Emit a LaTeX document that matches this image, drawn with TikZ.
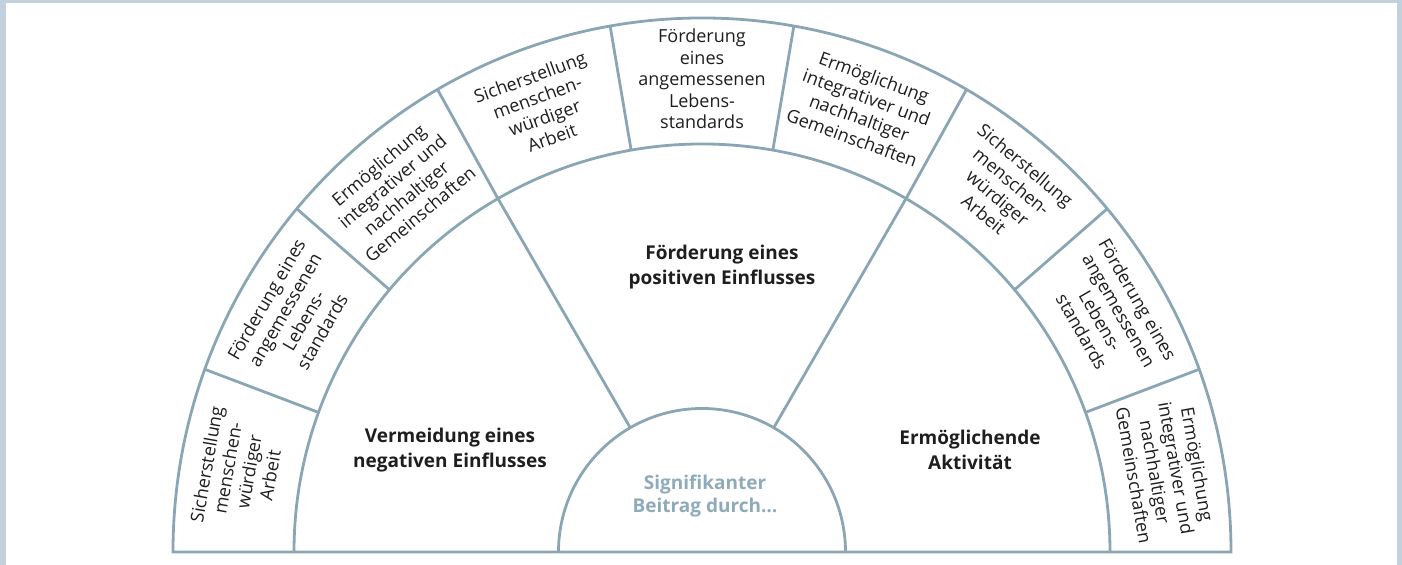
\documentclass[tikz,border=0pt]{standalone}
\usepackage{fontspec}
\setmainfont{Open Sans}
\definecolor{framecol}{HTML}{C2D1DB}
\definecolor{rulecol}{HTML}{8AA6B4}
\definecolor{centrecol}{HTML}{8FAAB8}
\definecolor{inkcol}{HTML}{1E1E1E}
\begin{document}
\begin{tikzpicture}[x=0.5pt,y=0.5pt,
  ringline/.style={draw=rulecol,line width=1.4pt,line join=miter},
  outertext/.style={align=center,font=\fontsize{9}{10.75}\selectfont,text=inkcol,inner sep=0pt},
  midtext/.style={align=center,font=\fontsize{9.5}{12.5}\selectfont\bfseries,text=inkcol,inner sep=0pt},
  centretext/.style={align=center,font=\fontsize{9.5}{11.5}\selectfont\bfseries,text=centrecol,inner sep=0pt}
]
\useasboundingbox (-702,-13) rectangle (700,552);
% frame strips
\fill[framecol] (-702,549) rectangle (700,552);
\fill[framecol] (-702,-13) rectangle (-696,552);
\fill[framecol] (695,-13) rectangle (700,552);
% rings
\draw[ringline] (-529,0) arc[start angle=180,end angle=0,x radius=529,y radius=534] -- cycle;
\draw[ringline] (-408,0) arc[start angle=180,end angle=0,radius=408];
\draw[ringline] (-143.5,0) arc[start angle=180,end angle=0,radius=143.5];
% outer dividers
\foreach \a in {20,40,...,160}
  \draw[ringline] ({408*cos(\a)},{408*sin(\a)}) -- ({529*cos(\a)},{534*sin(\a)});
% middle dividers
\foreach \a in {60,120}
  \draw[ringline] ({143.5*cos(\a)},{143.5*sin(\a)}) -- ({408*cos(\a)},{408*sin(\a)});
% outer texts
\node[outertext,rotate=80] (o1) at ({471*cos(170)},{473*sin(170)}) {Sicherstellung\\menschen-\\würdiger\\Arbeit};
\node[outertext,rotate=60] (o2) at ({471*cos(150)},{473*sin(150)}) {Förderung eines\\angemessenen\\Lebens-\\standards};
\node[outertext,rotate=40] (o3) at ({471*cos(130)},{473*sin(130)}) {Ermöglichung\\integrativer und\\nachhaltiger\\Gemeinschaften};
\node[outertext,rotate=20] (o4) at ({471*cos(110)},{473*sin(110)}) {Sicherstellung\\menschen-\\würdiger\\Arbeit};
\node[outertext,rotate=0] (o5) at ({471*cos(90)},{473*sin(90)}) {Förderung\\eines\\angemessenen\\Lebens-\\standards};
\node[outertext,rotate=-20] (o6) at ({471*cos(70)},{473*sin(70)}) {Ermöglichung\\integrativer und\\nachhaltiger\\Gemeinschaften};
\node[outertext,rotate=-40] (o7) at ({471*cos(50)},{473*sin(50)}) {Sicherstellung\\menschen-\\würdiger\\Arbeit};
\node[outertext,rotate=-60] (o8) at ({471*cos(30)},{473*sin(30)}) {Förderung eines\\angemessenen\\Lebens-\\standards};
\node[outertext,rotate=-80] (o9) at ({471*cos(10)},{473*sin(10)}) {Ermöglichung\\integrativer und\\nachhaltiger\\Gemeinschaften};
% middle texts
\node[midtext] (m1) at (-252,102) {Vermeidung eines\\negativen Einflusses};
\node[midtext] (m2) at (20,285) {Förderung eines\\positiven Einflusses};
\node[midtext] (m3) at (268,102) {Ermöglichende\\Aktivität};
% centre
\node[centretext] (c) at (3,56) {Signifikanter\\Beitrag durch…};
\end{tikzpicture}
\end{document}
